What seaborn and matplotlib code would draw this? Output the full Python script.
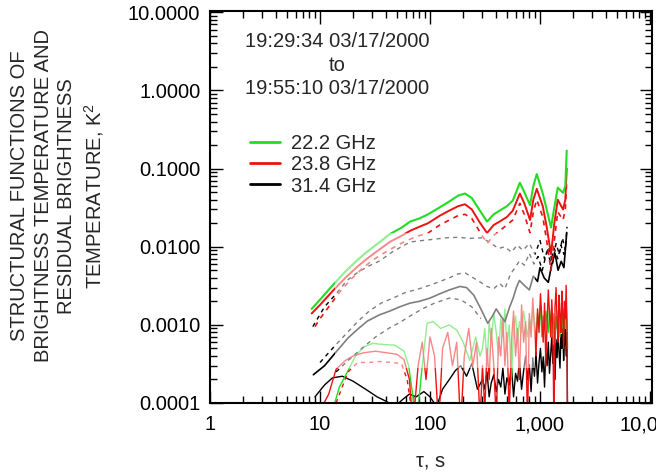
import numpy as np
import pandas as pd
import matplotlib
matplotlib.use("Agg")
import matplotlib.pyplot as plt
import seaborn as sns
from matplotlib.lines import Line2D
from matplotlib.patches import Rectangle
from matplotlib.ticker import FixedLocator, FixedFormatter, LogLocator, NullFormatter

# ---------------- data ----------------
# upper group: structure functions of brightness temperature
G_TAU = [8.4, 10, 13, 17, 22, 27, 35, 43, 55, 66, 80, 96, 123, 150, 180, 208, 240, 280, 330, 380,
         430, 500, 566, 656, 720, 812, 870, 935, 1060, 1150, 1260, 1350, 1450, 1620, 1700, 1750]
G_VAL = [0.0016, 0.0021, 0.0032, 0.0048, 0.0068, 0.0087, 0.0115, 0.0145, 0.0175, 0.021, 0.023, 0.026,
         0.032, 0.038, 0.045, 0.048, 0.042, 0.030, 0.021, 0.026, 0.029, 0.033, 0.039, 0.066, 0.050, 0.034,
         0.060, 0.085, 0.048, 0.030, 0.0176, 0.032, 0.057, 0.049, 0.060, 0.17]
R_VAL = [0.0014, 0.0018, 0.0027, 0.0040, 0.0056, 0.0071, 0.0093, 0.0115, 0.0138, 0.016, 0.018, 0.020,
         0.025, 0.029, 0.033, 0.035, 0.030, 0.021, 0.015, 0.019, 0.021, 0.024, 0.029, 0.048, 0.036, 0.022,
         0.040, 0.055, 0.033, 0.018, 0.008, 0.020, 0.040, 0.030, 0.040, 0.10]
RD_TAU = [9, 10, 12, 15, 19, 24, 30, 38, 48, 60, 75, 96, 123, 150, 180, 208, 240, 280, 330, 380,
          430, 500, 566, 656, 720, 812, 870, 935, 1060, 1150, 1260, 1350, 1450, 1620, 1700, 1750]
RD_VAL = [0.00095, 0.0012, 0.0017, 0.0026, 0.0038, 0.0052, 0.0067, 0.0083, 0.010, 0.0118, 0.0135, 0.015,
          0.019, 0.022, 0.025, 0.026, 0.023, 0.016, 0.011, 0.014, 0.016, 0.019, 0.022, 0.036, 0.026, 0.015,
          0.028, 0.040, 0.024, 0.012, 0.005, 0.012, 0.028, 0.022, 0.030, 0.07]
K1_TAU = [8.6, 11, 14, 17.6, 22, 28, 35, 45, 55, 66, 85, 110, 140, 180, 230, 300, 360, 420, 480, 550,
          620, 700, 800, 900, 1000, 1100, 1200, 1300, 1400, 1500, 1600, 1700, 1760]
K1_VAL = [0.00095, 0.0017, 0.0025, 0.0037, 0.0047, 0.0057, 0.0066, 0.0085, 0.0100, 0.0115, 0.012, 0.0125,
          0.013, 0.0132, 0.0128, 0.013, 0.011, 0.0095, 0.010, 0.0085, 0.0105, 0.009, 0.011, 0.008, 0.012,
          0.007, 0.010, 0.006, 0.011, 0.008, 0.013, 0.009, 0.018]

# middle group (31.4 GHz)
KS_TAU = [8.7, 11, 14, 18, 22, 27, 35, 43, 53, 66, 80, 100, 123, 150, 187, 215, 250, 290, 335, 370,
          400, 440, 480, 530, 570, 610, 650, 720, 800, 870, 950, 1000, 1090, 1190, 1280, 1370, 1460, 1560,
          1650, 1750]
KS_VAL = [0.00023, 0.00030, 0.00045, 0.00068, 0.00088, 0.00112, 0.00135, 0.0015, 0.0017, 0.0019, 0.0020,
          0.0022, 0.0025, 0.0028, 0.0031, 0.0030, 0.0024, 0.0016, 0.00105, 0.0013, 0.0016, 0.0013, 0.0011,
          0.0017, 0.0022, 0.0030, 0.0037, 0.0032, 0.0028, 0.0042, 0.0036, 0.0054, 0.0040, 0.0035, 0.0060,
          0.0082, 0.0050, 0.0065, 0.0054, 0.0152]
K2_TAU = [10, 13, 17, 22, 28, 36, 46, 60, 80, 105, 130, 150, 180, 210, 240, 280, 330, 380, 430, 480,
          540, 600, 650, 720, 800, 880, 960, 1050, 1150, 1250, 1350, 1450, 1550, 1650, 1750]
K2_VAL = [0.00033, 0.0005, 0.00075, 0.0011, 0.0015, 0.0019, 0.0022, 0.0026, 0.0029, 0.0033, 0.0037, 0.0040,
          0.0045, 0.0046, 0.0041, 0.0036, 0.0031, 0.0029, 0.0034, 0.0029, 0.0045, 0.0055, 0.0066, 0.0058,
          0.0082, 0.0060, 0.0075, 0.0050, 0.0085, 0.0065, 0.0095, 0.0070, 0.0105, 0.0080, 0.012]
K3_TAU = [14, 18, 24, 32, 42, 53, 66, 85, 110, 150, 190, 240, 290]
K3_VAL = [0.00025, 0.00035, 0.0005, 0.0007, 0.0009, 0.00107, 0.0013, 0.0016, 0.0019, 0.0022, 0.0021,
          0.0017, 0.0012]

# lower group: residual brightness temperature
GR_TAU_E = [13, 15, 18, 21, 25, 30, 38, 48, 58, 64, 70, 76, 85, 94, 107, 125, 150, 176, 200, 230, 260, 285]
GR_VAL_E = [8e-5, 1.6e-4, 2.6e-4, 4e-4, 5.2e-4, 5.8e-4, 5.6e-4, 5.5e-4, 4.6e-4, 3e-4, 1.2e-4, 6e-5, 3e-4,
            1.05e-3, 1.1e-3, 9e-4, 1e-3, 8.5e-4, 6e-4, 3.5e-4, 7e-4, 4e-4]
RR_TAU_E = [9, 12, 14, 17, 20, 25, 32, 40, 50, 58, 65, 70, 78, 85, 92, 100, 110, 120, 130, 145, 160, 175,
            190, 205, 225, 245, 265, 285]
RR_VAL_E = [6e-5, 1.3e-4, 2.7e-4, 3.5e-4, 4e-4, 4.4e-4, 4.6e-4, 4.4e-4, 4.2e-4, 3.6e-4, 2e-4, 5e-5, 3e-4,
            6e-4, 2e-4, 7e-4, 4e-4, 5e-5, 5e-4, 8e-4, 3e-4, 6e-4, 5e-5, 4e-4, 9e-4, 3e-4, 6e-4, 6e-5]
RRD_TAU = [14, 18, 22, 28, 35, 45, 55, 62, 68]
RRD_VAL = [1e-4, 2.5e-4, 3.3e-4, 3.3e-4, 3.4e-4, 3.3e-4, 3.2e-4, 2e-4, 8e-5]
KR_TAU_E = [9, 11, 13, 16, 20, 26, 33, 40, 48, 56, 65, 75, 88, 100, 115, 130, 150, 170, 190, 215, 240, 270]
KR_VAL_E = [1.2e-4, 1.7e-4, 2.1e-4, 2.2e-4, 1.9e-4, 1.5e-4, 1.2e-4, 1.05e-4, 9e-5, 1.1e-4, 1.3e-4, 1.2e-4,
            1.4e-4, 1.2e-4, 9e-5, 1.5e-4, 2e-4, 2.6e-4, 3e-4, 2.2e-4, 3.2e-4, 1.5e-4]

TAU_D = [300, 315, 330, 345, 360, 380, 400, 420, 440, 460, 480, 500, 525, 550, 575, 600, 625, 650, 680, 710,
         740, 770, 800, 830, 860, 890, 920, 950, 980, 1010, 1040, 1070, 1100, 1130, 1160, 1190, 1220, 1250,
         1280, 1310, 1340, 1370, 1400, 1430, 1460, 1490, 1520, 1550, 1580, 1610, 1640, 1670, 1700, 1730,
         1760, 1780]
RR_VAL_D = [3e-4, 8e-5, 5e-4, 2e-4, 9e-4, 3e-4, 6e-5, 7e-4, 4e-4, 1.2e-3, 3e-4, 8e-4, 7e-5, 6e-4, 1.5e-3,
            4e-4, 9e-4, 2e-4, 1.8e-3, 6e-4, 1.1e-3, 5e-5, 1.4e-3, 7e-4, 2.2e-3, 9e-4, 4e-4, 1.6e-3, 8e-4,
            2.5e-3, 1.2e-3, 6e-4, 1.9e-3, 3e-4, 1.1e-3, 2.8e-3, 1.4e-3, 7e-4, 2.1e-3, 9e-4, 4e-5, 1.7e-3,
            3e-3, 1.1e-3, 6e-4, 2.4e-3, 1.3e-3, 8e-4, 2.7e-3, 1.5e-3, 5e-4, 2e-3, 1.2e-3, 3.2e-3, 9e-4, 6e-5]
GR_VAL_D = [5e-4, 9e-4, 3e-4, 1.1e-3, 6e-4, 1.4e-3, 8e-4, 4e-4, 1.2e-3, 7e-4, 1.6e-3, 5e-4, 1e-3, 2e-4,
            9e-4, 1.3e-3, 6e-4, 1.1e-3, 8e-4, 1.5e-3, 1e-3, 7e-4, 1.2e-3, 9e-4, 1.7e-3, 1.1e-3, 6e-4, 1.4e-3,
            1e-3, 1.8e-3, 7e-4, 1.3e-3, 9e-4, 1.5e-3, 1.1e-3, 8e-4, 1.6e-3, 1.2e-3, 7e-4, 1.4e-3, 1e-3, 6e-4,
            1.3e-3, 9e-4, 1.5e-3, 1.1e-3, 7e-4, 1.2e-3, 8e-4, 1.6e-3, 1e-3, 1.4e-3, 9e-4, 1.8e-3, 1.1e-3, 5e-4]
KR_VAL_D = [2e-4, 1.5e-4, 2.5e-4, 1.2e-4, 1.8e-4, 2.3e-4, 1.4e-4, 2e-4, 1.6e-4, 2.8e-4, 1.3e-4, 2.1e-4,
            1.7e-4, 3e-4, 1.2e-4, 2.4e-4, 1.9e-4, 3.5e-4, 1.5e-4, 2.6e-4, 4e-4, 2e-4, 3.1e-4, 1.4e-4, 3.8e-4,
            2.2e-4, 4.5e-4, 1.8e-4, 3.3e-4, 5e-4, 2.5e-4, 3.9e-4, 1.6e-4, 4.8e-4, 3e-4, 6e-4, 2.4e-4, 4.2e-4,
            7e-4, 3.2e-4, 5.5e-4, 2e-4, 6.5e-4, 3.8e-4, 8e-4, 4.5e-4, 2.8e-4, 7.5e-4, 5e-4, 9e-4, 3.5e-4,
            6e-4, 1e-3, 4e-4, 8e-4, 5e-5]

LEGEND_LABELS = ["22.2 GHz", "23.8 GHz", "31.4 GHz"]
X_TICKS = [1, 10, 100, 1000, 10000]
X_TICKLABELS = ["1", "10", "100", "1,000", "10,000"]
Y_TICKS = [1e-4, 1e-3, 1e-2, 1e-1, 1, 10]
Y_TICKLABELS = ["0.0001", "0.0010", "0.0100", "0.1000", "1.0000", "10.0000"]

GREEN = "#22dd22"
RED = "#ee1111"
BLACK = "#000000"
FS = 14.5

# ---------------- style ----------------
sns.set_style("ticks")
plt.rcParams["font.family"] = ["Liberation Sans", "DejaVu Sans"]
plt.rcParams["mathtext.fontset"] = "custom"
plt.rcParams["mathtext.rm"] = "Liberation Sans"
plt.rcParams["mathtext.it"] = "Liberation Sans"

fig = plt.figure(figsize=(6.56, 4.74), dpi=100)
ax = fig.add_axes([210 / 656, 71 / 474, 442 / 656, 392 / 474])
ax.set_xscale("log")
ax.set_yscale("log")

DASH = (0, (3, 3))


def draw(tau, val, color, ls="-", lw=1.3, z=2):
    df = pd.DataFrame({"tau": tau, "val": val})
    sns.lineplot(data=df, x="tau", y="val", color=color, linestyle=ls, lw=lw,
                 sort=False, estimator=None, ax=ax, zorder=z)


# lower residual series
draw(KR_TAU_E + TAU_D, KR_VAL_E + KR_VAL_D, BLACK, lw=1.0)
draw(GR_TAU_E + TAU_D, GR_VAL_E + GR_VAL_D, GREEN, lw=1.0)
draw(RR_TAU_E + TAU_D, RR_VAL_E + RR_VAL_D, RED, lw=1.0)
draw(RRD_TAU, RRD_VAL, RED, ls=DASH, lw=1.0)

# middle black
draw(K3_TAU, K3_VAL, BLACK, ls=DASH, lw=1.0)
draw(K2_TAU, K2_VAL, BLACK, ls=DASH, lw=1.0)
draw(KS_TAU, KS_VAL, BLACK, lw=1.2)

# upper group
draw(K1_TAU, K1_VAL, BLACK, ls=DASH, lw=1.0)
draw(RD_TAU, RD_VAL, RED, ls=DASH, lw=1.2)
draw(G_TAU, R_VAL, RED, lw=1.4)
draw(G_TAU, G_VAL, GREEN, lw=1.5)

# faded (scanned) patch of the original figure
ax.add_patch(Rectangle((13.7, 2.8e-4), 900 - 13.7, 0.0148 - 2.8e-4, facecolor="white",
                       edgecolor="none", alpha=0.5, zorder=5))

ax.set_xlim(1, 10430)
ax.set_ylim(1e-4, 10.4)

ax.xaxis.set_major_locator(FixedLocator(X_TICKS))
ax.xaxis.set_major_formatter(FixedFormatter(X_TICKLABELS))
ax.yaxis.set_major_locator(FixedLocator(Y_TICKS))
ax.yaxis.set_major_formatter(FixedFormatter(Y_TICKLABELS))
ax.xaxis.set_minor_locator(LogLocator(base=10, subs=np.arange(2, 10), numticks=20))
ax.yaxis.set_minor_locator(LogLocator(base=10, subs=np.arange(2, 10), numticks=20))
ax.xaxis.set_minor_formatter(NullFormatter())
ax.yaxis.set_minor_formatter(NullFormatter())

ax.tick_params(which="both", direction="in", top=True, right=True, colors="black",
               labelsize=FS, width=1.0)
ax.tick_params(which="major", length=9, pad=7)
ax.tick_params(axis="x", which="major", pad=9)
ax.tick_params(which="minor", length=5)
for s in ax.spines.values():
    s.set_linewidth(1.5)
    s.set_color("black")

ax.set_xlabel("τ, s", fontsize=FS, labelpad=12)
ax.set_ylabel("")

fig.text(58 / 656, 1 - 196 / 474,
         "STRUCTURAL FUNCTIONS OF\nBRIGHTNESS TEMPERATURE AND\nRESIDUAL BRIGHTNESS\nTEMPERATURE, K$^2$",
         rotation=90, ha="center", va="center", multialignment="center", fontsize=FS,
         linespacing=1.3)

ax.text(0.287, 0.862, "19:29:34 03/17/2000\nto\n19:55:10 03/17/2000", transform=ax.transAxes,
        ha="center", va="center", multialignment="center", fontsize=FS, linespacing=1.3, zorder=6)

handles = [Line2D([], [], color=c, lw=2) for c in (GREEN, RED, BLACK)]
ax.legend(handles, LEGEND_LABELS, loc="upper left", bbox_to_anchor=(0.09, 0.685),
          frameon=False, fontsize=FS, handlelength=1.5, handletextpad=0.55,
          labelspacing=0.1, borderpad=0, borderaxespad=0)

fig.savefig("out.png", dpi=100)
